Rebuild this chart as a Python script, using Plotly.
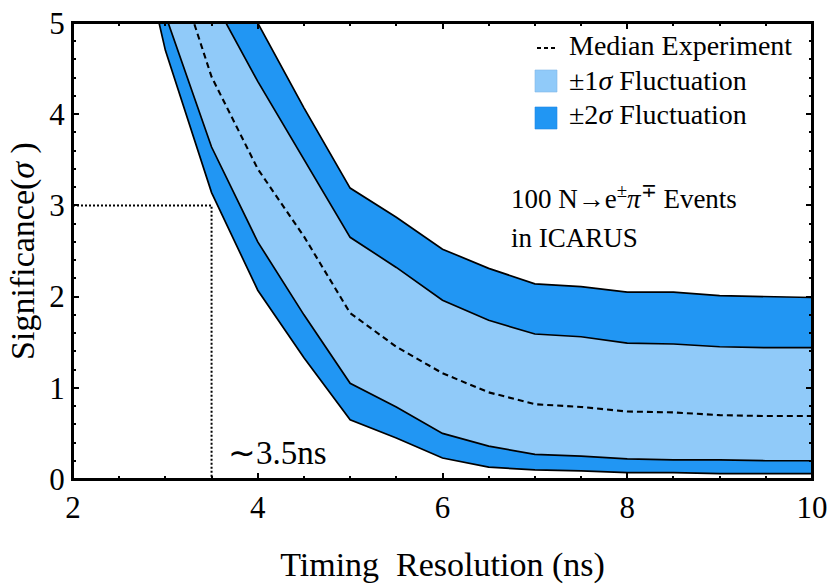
import plotly.graph_objects as go

# ── Data ─────────────────────────────────────────────────────────
TIMING_NS = [2.5, 3, 3.5, 4, 4.5, 5, 5.5, 6, 6.5, 7, 7.5, 8, 8.5, 9, 9.5, 10]

MEDIAN   = [7.6, 5.96, 4.41, 3.40, 2.66, 1.82, 1.45, 1.16, 0.95, 0.82, 0.79, 0.74, 0.73, 0.70, 0.69, 0.69]
LOW_1SIG = [6.5, 5.09, 3.64, 2.60, 1.80, 1.05, 0.79, 0.50, 0.36, 0.27, 0.25, 0.22, 0.21, 0.21, 0.20, 0.20]
HIGH_1SIG = [7.1, 6.20, 5.29, 4.36, 3.50, 2.65, 2.32, 1.96, 1.74, 1.59, 1.56, 1.49, 1.48, 1.45, 1.44, 1.44]
LOW_2SIG = [6.9, 4.70, 3.14, 2.07, 1.33, 0.65, 0.45, 0.23, 0.13, 0.10, 0.09, 0.07, 0.07, 0.06, 0.06, 0.06]
HIGH_2SIG = [7.7, 6.85, 5.93, 5.00, 4.07, 3.19, 2.87, 2.52, 2.31, 2.14, 2.11, 2.05, 2.05, 2.01, 2.00, 1.99]

THRESH_X = 3.5   # ns
THRESH_Y = 3.0   # sigma

# ── Style ────────────────────────────────────────────────────────
FONT = "Liberation Serif"
DARK = "#2196F3"
LIGHT = "#90CAF9"
INK = "#000000"

fig = go.Figure()

# bands (fill only)
fig.add_trace(go.Scatter(x=TIMING_NS, y=LOW_2SIG, mode="lines",
                         line=dict(width=0), showlegend=False, hoverinfo="skip"))
fig.add_trace(go.Scatter(x=TIMING_NS, y=HIGH_2SIG, mode="lines", fill="tonexty",
                         fillcolor=DARK, line=dict(width=0), showlegend=False))
fig.add_trace(go.Scatter(x=TIMING_NS, y=LOW_1SIG, mode="lines",
                         line=dict(width=0), showlegend=False, hoverinfo="skip"))
fig.add_trace(go.Scatter(x=TIMING_NS, y=HIGH_1SIG, mode="lines", fill="tonexty",
                         fillcolor=LIGHT, line=dict(width=0), showlegend=False))

# band edges
for edge in (LOW_2SIG, HIGH_2SIG, LOW_1SIG, HIGH_1SIG):
    fig.add_trace(go.Scatter(x=TIMING_NS, y=edge, mode="lines",
                             line=dict(color=INK, width=1.7), showlegend=False))

fig.add_trace(go.Scatter(x=TIMING_NS, y=MEDIAN, mode="lines",
                         line=dict(color=INK, width=2.1, dash="6px,4px"), showlegend=False))

# ~3.5ns marker
fig.add_trace(go.Scatter(x=[2, THRESH_X, THRESH_X], y=[THRESH_Y, THRESH_Y, 0], mode="lines",
                         line=dict(color=INK, width=2, dash="2px,2px"), showlegend=False))

# frame around the plot area
fig.add_shape(type="rect", xref="paper", yref="paper", x0=0, x1=1, y0=0, y1=1,
              line=dict(color=INK, width=2), layer="above")

# ── Hand-made legend (square swatches like the original) ─────────
# pixel -> paper helpers, plot area spans x 73..812, y 23..479
def px_x(p):
    return (p - 73) / 739

def px_y(p):
    return (479 - p) / 456

fig.add_shape(type="line", xref="paper", yref="paper",
              x0=px_x(537), x1=px_x(558), y0=px_y(48), y1=px_y(48),
              line=dict(color=INK, width=2.2, dash="4px,3px"))
fig.add_shape(type="rect", xref="paper", yref="paper",
              x0=px_x(535), x1=px_x(557), y0=px_y(92), y1=px_y(70),
              fillcolor=LIGHT, line=dict(width=0.6, color="#7FB5E6"))
fig.add_shape(type="rect", xref="paper", yref="paper",
              x0=px_x(535), x1=px_x(557), y0=px_y(129), y1=px_y(107),
              fillcolor=DARK, line=dict(width=0.6, color="#1E88E5"))

legend_rows = [("Median Experiment", 45), ("±1<i>σ</i> Fluctuation", 80),
               ("±2<i>σ</i> Fluctuation", 115)]
for txt, py in legend_rows:
    fig.add_annotation(text=txt, xref="paper", yref="paper", x=px_x(567), y=px_y(py),
                       xanchor="left", yanchor="middle", showarrow=False,
                       font=dict(family=FONT, size=28, color=INK))

fig.add_annotation(text="100 N→e<sup>±</sup><i>π</i><sup>∓</sup> Events", xref="paper", yref="paper",
                   x=px_x(509), y=px_y(197), xanchor="left", yanchor="middle", showarrow=False,
                   font=dict(family=FONT, size=27, color=INK))
fig.add_annotation(text="in ICARUS", xref="paper", yref="paper",
                   x=px_x(509), y=px_y(238), xanchor="left", yanchor="middle", showarrow=False,
                   font=dict(family=FONT, size=27, color=INK))

fig.add_annotation(text="∼3.5ns", x=3.66, y=0.28, xanchor="left", yanchor="middle",
                   showarrow=False, font=dict(family=FONT, size=33, color=INK))

axis_common = dict(
    showline=True, linecolor=INK, linewidth=2, mirror="allticks",
    ticks="inside", ticklen=6, tickwidth=1.5, tickcolor=INK,
    showgrid=False, zeroline=False, automargin=False,
    tickfont=dict(family=FONT, size=31, color=INK),
)

fig.update_layout(
    width=830, height=584,
    margin=dict(l=73, r=18, t=23, b=105),
    paper_bgcolor="white", plot_bgcolor="white",
    showlegend=False,
    xaxis=dict(range=[2, 10], tick0=2, dtick=2,
               minor=dict(dtick=0.5, ticks="inside", ticklen=3, tickcolor=INK, tickwidth=1.5),
               title=dict(text="Timing  Resolution (ns)", standoff=30,
                          font=dict(family=FONT, size=34, color=INK)),
               **axis_common),
    yaxis=dict(range=[0, 5], tick0=0, dtick=1,
               minor=dict(dtick=0.2, ticks="inside", ticklen=3, tickcolor=INK, tickwidth=1.5),
               title=dict(text="Significance(<i>σ</i> )", standoff=4,
                          font=dict(family=FONT, size=34, color=INK)),
               **axis_common),
)

# drop the default body margin so the figure sits at the page corner
fig.write_html("out.html", config={"displayModeBar": False},
               post_script="document.body.style.margin='0';document.body.style.overflow='hidden';")
